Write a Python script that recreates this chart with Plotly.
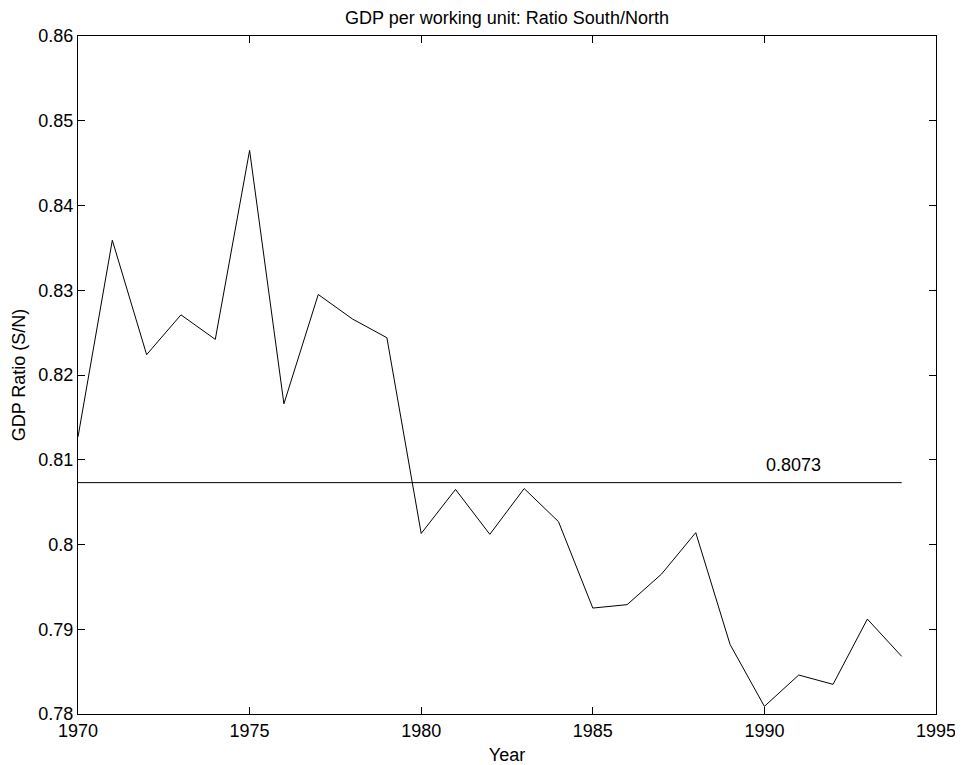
import plotly.graph_objects as go

years = list(range(1970, 1995))
ratio = [0.8127, 0.8359, 0.8224, 0.8271, 0.8242, 0.8465, 0.8166, 0.8295, 0.8266, 0.8244,
         0.8013, 0.8065, 0.8012, 0.8066, 0.8027, 0.7925, 0.7929, 0.7965, 0.8014, 0.7882,
         0.7809, 0.7846, 0.7835, 0.7912, 0.7868]
mean_value = 0.8073
mean_label = "0.8073"
mean_label_x = 1990.85

x_ticks = [1970, 1975, 1980, 1985, 1990, 1995]
y_ticks = [0.78, 0.79, 0.80, 0.81, 0.82, 0.83, 0.84, 0.85, 0.86]
y_tick_text = ["0.78", "0.79", "0.8", "0.81", "0.82", "0.83", "0.84", "0.85", "0.86"]

font = "Liberation Sans, Arial, Helvetica, sans-serif"
FS = 18

# page body has an 8px default margin, so the figure is sized to the visible area
W, H = 955, 757

fig = go.Figure()
fig.add_trace(go.Scatter(x=years, y=ratio, mode="lines",
                         line=dict(color="black", width=1), showlegend=False, hoverinfo="x+y"))
fig.add_trace(go.Scatter(x=[years[0], years[-1]], y=[mean_value, mean_value], mode="lines",
                         line=dict(color="black", width=1), showlegend=False))
fig.add_annotation(x=mean_label_x, y=mean_value, text=mean_label, showarrow=False,
                   yanchor="bottom", yshift=6, font=dict(size=FS, color="black", family=font))

axis_common = dict(showline=True, linecolor="black", linewidth=1, mirror="ticks",
                   ticks="inside", ticklen=7, tickcolor="black", tickwidth=1,
                   showgrid=False, zeroline=False, automargin=False,
                   tickfont=dict(size=FS, color="black", family=font))

fig.update_layout(
    width=W, height=H,
    margin=dict(l=70, r=27, t=28, b=51),
    paper_bgcolor="white", plot_bgcolor="white",
    title=dict(text="GDP per working unit: Ratio South/North", x=0.5, xref="paper",
               y=1 - 10 / H, yanchor="middle", automargin=False,
               font=dict(size=18, color="black", family=font)),
    xaxis=dict(range=[1970, 1995], tickvals=x_ticks, ticktext=[str(v) for v in x_ticks],
               title=dict(text="Year", font=dict(size=FS, color="black", family=font), standoff=8),
               **axis_common),
    yaxis=dict(range=[0.78, 0.86], tickvals=y_ticks, ticktext=y_tick_text,
               title=dict(text="GDP Ratio (S/N)", font=dict(size=FS, color="black", family=font), standoff=8),
               **axis_common),
)

fig.write_html("out.html")
